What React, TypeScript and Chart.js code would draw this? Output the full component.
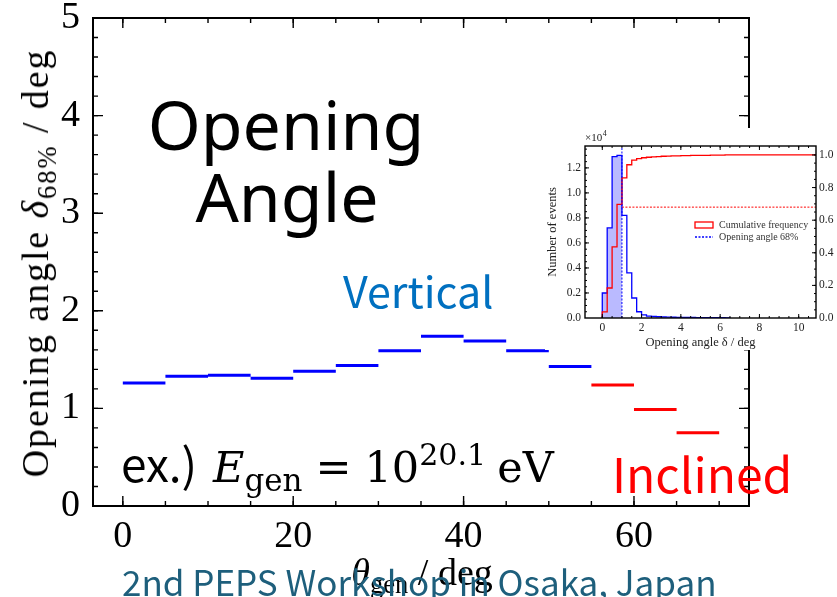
import React, { useEffect, useRef } from "react";
import { Chart, registerables } from "chart.js";

Chart.register(...registerables);

// ---------------- main chart data ----------------
const zenithBinStart = [0, 5, 10, 15, 20, 25, 30, 35, 40, 45, 50, 55, 60, 65];
const zenithBinWidth = 5;
const openingAngle68 = [1.26, 1.33, 1.34, 1.31, 1.38, 1.44, 1.59, 1.74, 1.69, 1.59, 1.43, 1.24, 0.99, 0.75];
const inclinedFromIndex = 11; // bins from 55 deg are "Inclined"
const mainXTicks = [0, 20, 40, 60];
const mainYTicks = [0, 1, 2, 3, 4, 5];

// ---------------- inset data ----------------
const insetBinEdges = [0, 0.25, 0.5, 0.75, 1, 1.25, 1.5, 1.75, 2, 2.25, 2.5, 2.75, 3, 3.25, 3.5, 3.75, 4, 4.25, 4.5, 4.75, 5, 5.25, 5.5, 5.75, 6, 6.25, 6.5];
const insetCounts = [0.2, 0.72, 1.29, 1.3, 0.82, 0.36, 0.16, 0.05, 0.025, 0.015, 0.012, 0.01, 0.008, 0.007, 0.006, 0.005, 0.005, 0.004, 0.004, 0.003, 0.003, 0.003, 0.002, 0.002, 0.002, 0.001];
const insetCumulative = [0.038, 0.184, 0.436, 0.697, 0.86, 0.94, 0.968, 0.978, 0.983, 0.986, 0.988, 0.99, 0.992, 0.993, 0.994, 0.995, 0.996, 0.996, 0.997, 0.997, 0.998, 0.998, 0.999, 0.999, 0.999, 1.0];
const insetXTicks = [0, 2, 4, 6, 8, 10];
const insetYTicks = [0, 0.2, 0.4, 0.6, 0.8, 1.0, 1.2];
const insetY2Ticks = [0, 0.2, 0.4, 0.6, 0.8, 1.0];
const openingAngleCut = 1.0;
const cumulativeLevel = 0.68;

const X_MIN = -3.5, X_MAX = 73.5, Y_MIN = 0, Y_MAX = 5;
const IX_MIN = -0.88, IX_MAX = 10.88, IY_MAX = 1.375, IY2_MAX = 1.055;

const SERIF = '"Liberation Serif", "DejaVu Serif", serif';
const MATH = '"DejaVu Serif", "Liberation Serif", serif';
const SANS_JP = '"Noto Sans CJK JP", "Noto Sans", sans-serif';

function range(from: number, to: number, step: number) {
  const out: number[] = [];
  for (let v = from; v <= to + 1e-9; v += step) out.push(Math.round(v * 1000) / 1000);
  return out;
}

function segments(from: number, to: number) {
  const pts: any[] = [];
  for (let i = from; i < to; i++) {
    const s = zenithBinStart[i];
    pts.push({ x: s, y: openingAngle68[i] });
    pts.push({ x: s + zenithBinWidth, y: openingAngle68[i] });
    pts.push({ x: s + zenithBinWidth, y: null });
  }
  return pts;
}

const noPad = (s: any) => {
  s.paddingTop = 0;
  s.paddingBottom = 0;
  s.paddingLeft = 0;
  s.paddingRight = 0;
};

const axisFrame = {
  id: "axisFrame",
  afterDatasetsDraw(chart: any, _args: any, opts: any) {
    const { ctx, chartArea: a } = chart;
    ctx.save();
    ctx.strokeStyle = "#000";
    ctx.lineCap = "butt";
    ctx.lineWidth = opts.tickWidth;
    for (const spec of opts.axes) {
      const s = chart.scales[spec.id];
      const horiz = s.isHorizontal();
      const draw = (v: number, len: number) => {
        const p = s.getPixelForValue(v);
        ctx.beginPath();
        if (horiz) {
          if (p < a.left + 1 || p > a.right - 1) return;
          if (spec.sides.includes("bottom")) { ctx.moveTo(p, a.bottom); ctx.lineTo(p, a.bottom - len); }
          if (spec.sides.includes("top")) { ctx.moveTo(p, a.top); ctx.lineTo(p, a.top + len); }
        } else {
          if (p < a.top + 1 || p > a.bottom - 1) return;
          if (spec.sides.includes("left")) { ctx.moveTo(a.left, p); ctx.lineTo(a.left + len, p); }
          if (spec.sides.includes("right")) { ctx.moveTo(a.right, p); ctx.lineTo(a.right - len, p); }
        }
        ctx.stroke();
      };
      spec.minor.forEach((v: number) => draw(v, opts.minorLen));
      spec.major.forEach((v: number) => draw(v, opts.majorLen));
    }
    ctx.lineWidth = opts.frameWidth;
    ctx.strokeRect(a.left, a.top, a.right - a.left, a.bottom - a.top);
    ctx.restore();
  },
};

const insetDecor = {
  id: "insetDecor",
  afterDraw(chart: any) {
    const { ctx, chartArea: a } = chart;
    ctx.save();
    ctx.fillStyle = "#222";
    ctx.textBaseline = "alphabetic";
    ctx.textAlign = "left";
    ctx.font = `11px ${SERIF}`;
    ctx.fillText("×10", a.left, a.top - 5);
    const w = ctx.measureText("×10").width;
    ctx.font = `8px ${SERIF}`;
    ctx.fillText("4", a.left + w + 0.5, a.top - 10);
    // legend
    const lx = a.left + 110, ly1 = a.top + 79, ly2 = a.top + 91;
    ctx.strokeStyle = "#ff0000";
    ctx.lineWidth = 1.3;
    ctx.strokeRect(lx, ly1 - 3, 18, 6);
    ctx.strokeStyle = "#0000ff";
    ctx.setLineDash([2, 1.5]);
    ctx.beginPath();
    ctx.moveTo(lx, ly2);
    ctx.lineTo(lx + 18, ly2);
    ctx.stroke();
    ctx.setLineDash([]);
    ctx.fillStyle = "#333";
    ctx.font = `10px ${SERIF}`;
    ctx.textBaseline = "middle";
    ctx.fillText("Cumulative frequency", lx + 24, ly1);
    ctx.fillText("Opening angle 68%", lx + 24, ly2);
    ctx.restore();
  },
};

export default function App() {
  const mainRef = useRef<HTMLCanvasElement>(null);
  const insetRef = useRef<HTMLCanvasElement>(null);

  useEffect(() => {
    const tickFont = { family: SERIF, size: 38 };
    const main = new Chart(mainRef.current!, {
      type: "line",
      data: {
        datasets: [
          {
            label: "Vertical",
            data: segments(0, inclinedFromIndex),
            borderColor: "#0000ff",
            borderWidth: 3,
            pointRadius: 0,
            spanGaps: false,
            borderCapStyle: "butt",
          },
          {
            label: "Inclined",
            data: segments(inclinedFromIndex, openingAngle68.length),
            borderColor: "#ff0000",
            borderWidth: 3,
            pointRadius: 0,
            spanGaps: false,
            borderCapStyle: "butt",
          },
        ],
      },
      options: {
        responsive: false,
        animation: false,
        events: [],
        layout: { padding: { top: 18, right: 88, left: 0, bottom: 0 } },
        plugins: {
          legend: { display: false },
          tooltip: { enabled: false },
          axisFrame: {
            tickWidth: 1.4,
            frameWidth: 2,
            majorLen: 10,
            minorLen: 5,
            axes: [
              { id: "x", sides: ["bottom", "top"], major: mainXTicks, minor: range(0, 70, 5) },
              { id: "y", sides: ["left", "right"], major: mainYTicks, minor: range(0, 5, 0.2) },
            ],
          },
        } as any,
        scales: {
          x: {
            type: "linear",
            min: X_MIN,
            max: X_MAX,
            afterBuildTicks: (s: any) => { s.ticks = mainXTicks.map((v) => ({ value: v })); },
            afterFit: (s: any) => { s.height = 91; noPad(s); },
            grid: { display: false, drawTicks: false },
            border: { display: false },
            ticks: { font: tickFont, color: "#000", padding: 8, maxRotation: 0, autoSkip: false, callback: (v: any) => String(v) },
          },
          y: {
            type: "linear",
            min: Y_MIN,
            max: Y_MAX,
            afterBuildTicks: (s: any) => { s.ticks = mainYTicks.map((v) => ({ value: v })); },
            afterFit: (s: any) => { s.width = 93; noPad(s); },
            grid: { display: false, drawTicks: false },
            border: { display: false },
            ticks: { font: tickFont, color: "#000", padding: 13, autoSkip: false, callback: (v: any) => String(v) },
          },
        },
      },
      plugins: [axisFrame],
    } as any);

    // ----- inset -----
    const histData: any[] = [{ x: insetBinEdges[0], y: 0 }];
    insetCounts.forEach((c, i) => histData.push({ x: insetBinEdges[i], y: c }));
    histData.push({ x: insetBinEdges[insetCounts.length], y: 0 });

    const fillData: any[] = [{ x: insetBinEdges[0], y: 0 }];
    let lastFill = 0;
    insetCounts.forEach((c, i) => {
      if (insetBinEdges[i] < openingAngleCut - 1e-9) { fillData.push({ x: insetBinEdges[i], y: c }); lastFill = c; }
    });
    fillData.push({ x: openingAngleCut, y: lastFill });
    fillData.push({ x: openingAngleCut, y: 0 });

    const cumData: any[] = [{ x: insetBinEdges[0], y: 0 }];
    insetCumulative.forEach((c, i) => cumData.push({ x: insetBinEdges[i], y: c }));
    cumData.push({ x: IX_MAX, y: insetCumulative[insetCumulative.length - 1] });

    const smallTick = { family: SERIF, size: 11.5 };
    const inset = new Chart(insetRef.current!, {
      type: "line",
      data: {
        datasets: [
          { data: fillData, yAxisID: "y", stepped: "before", borderWidth: 0, pointRadius: 0, fill: "origin", backgroundColor: "rgba(0,0,255,0.27)", order: 5 },
          { data: histData, yAxisID: "y", stepped: "before", borderColor: "#0000ff", borderWidth: 1.3, pointRadius: 0, fill: false, order: 3 },
          { data: cumData, yAxisID: "y2", stepped: "before", borderColor: "#ff0000", borderWidth: 1.3, pointRadius: 0, fill: false, order: 2 },
          { data: [{ x: openingAngleCut, y: cumulativeLevel }, { x: IX_MAX, y: cumulativeLevel }], yAxisID: "y2", borderColor: "#ff0000", borderWidth: 1, borderDash: [2, 1.5], pointRadius: 0, fill: false, order: 1 },
          { data: [{ x: openingAngleCut, y: 0 }, { x: openingAngleCut, y: IY_MAX }], yAxisID: "y", borderColor: "#0000ff", borderWidth: 1, borderDash: [2, 1.5], pointRadius: 0, fill: false, order: 0 },
        ],
      },
      options: {
        responsive: false,
        animation: false,
        events: [],
        layout: { padding: { top: 18, right: 0, left: 0, bottom: 0 } },
        plugins: {
          legend: { display: false },
          tooltip: { enabled: false },
          axisFrame: {
            tickWidth: 1,
            frameWidth: 1.4,
            majorLen: 4,
            minorLen: 2,
            axes: [
              { id: "x", sides: ["bottom", "top"], major: insetXTicks, minor: range(0, 10.5, 0.5) },
              { id: "y", sides: ["left"], major: insetYTicks, minor: range(0, 1.35, 0.05) },
              { id: "y2", sides: ["right"], major: insetY2Ticks, minor: range(0, 1.05, 0.05) },
            ],
          },
        } as any,
        scales: {
          x: {
            type: "linear",
            min: IX_MIN,
            max: IX_MAX,
            afterBuildTicks: (s: any) => { s.ticks = insetXTicks.map((v) => ({ value: v })); },
            afterFit: (s: any) => { s.height = 32; noPad(s); },
            grid: { display: false, drawTicks: false },
            border: { display: false },
            ticks: { font: smallTick, color: "#222", padding: 3, maxRotation: 0, autoSkip: false, callback: (v: any) => String(v) },
            title: { display: true, text: "Opening angle δ / deg", font: { family: SERIF, size: 12.5 }, color: "#222", padding: 0 },
          },
          y: {
            type: "linear",
            position: "left",
            min: 0,
            max: IY_MAX,
            afterBuildTicks: (s: any) => { s.ticks = insetYTicks.map((v) => ({ value: v })); },
            afterFit: (s: any) => { s.width = 40; noPad(s); },
            grid: { display: false, drawTicks: false },
            border: { display: false },
            ticks: { font: smallTick, color: "#222", padding: 4, autoSkip: false, callback: (v: any) => Number(v).toFixed(1) },
            title: { display: true, text: "Number of events", font: { family: SERIF, size: 12.5 }, color: "#222", padding: 0 },
          },
          y2: {
            type: "linear",
            position: "right",
            min: 0,
            max: IY2_MAX,
            afterBuildTicks: (s: any) => { s.ticks = insetY2Ticks.map((v) => ({ value: v })); },
            afterFit: (s: any) => { s.width = 21; noPad(s); },
            grid: { display: false, drawTicks: false },
            border: { display: false },
            ticks: { font: smallTick, color: "#222", padding: 3, autoSkip: false, callback: (v: any) => Number(v).toFixed(1) },
          },
        },
      },
      plugins: [axisFrame, insetDecor],
    } as any);

    return () => {
      main.destroy();
      inset.destroy();
    };
  }, []);

  const abs: React.CSSProperties = { position: "absolute", whiteSpace: "nowrap", lineHeight: 1, margin: 0 };

  return (
    <div style={{ position: "absolute", left: 0, top: 0, width: 837, height: 597, overflow: "hidden", background: "#fff" }}>
      <canvas ref={mainRef} width={837} height={597} style={{ position: "absolute", left: 0, top: 0 }} />

      {/* y axis title */}
      <div style={{ ...abs, left: 35, top: 263, transform: "translate(-50%, -50%) rotate(-90deg)", fontFamily: SERIF, fontSize: 38, letterSpacing: "1.9px", color: "#000" }}>
        Opening angle <span style={{ fontStyle: "italic" }}>δ</span>
        <span style={{ fontSize: "0.7em", position: "relative", top: "0.3em" }}>68%</span> / deg
      </div>

      {/* x axis title */}
      <div style={{ ...abs, left: 422, top: 553, transform: "translateX(-50%)", fontFamily: SERIF, fontSize: 38, color: "#000" }}>
        <span style={{ fontStyle: "italic" }}>θ</span>
        <span style={{ fontSize: "0.7em", position: "relative", top: "0.3em" }}>gen</span> / deg
      </div>

      <canvas ref={insetRef} width={292} height={222} style={{ position: "absolute", left: 545, top: 128, background: "#fff" }} />

      {/* slide texts */}
      <div style={{ ...abs, left: 286, top: 90, transform: "translateX(-50%)", fontFamily: '"Noto Sans", sans-serif', fontSize: 68, color: "#000" }}>Opening</div>
      <div style={{ ...abs, left: 287, top: 162, transform: "translateX(-50%)", fontFamily: '"Noto Sans", sans-serif', fontSize: 68, color: "#000" }}>Angle</div>

      <div style={{ ...abs, left: 343, top: 268, fontFamily: SANS_JP, fontSize: 43, color: "#0070C0" }}>Vertical</div>
      <div style={{ ...abs, left: 612, top: 448, fontFamily: SANS_JP, fontSize: 48, color: "#ff0000" }}>Inclined</div>

      <div style={{ ...abs, left: 121, top: 439, fontFamily: MATH, fontSize: 43, color: "#000" }}>
        <span style={{ fontFamily: SANS_JP, fontSize: 46 }}>ex.)</span>
        <span style={{ fontStyle: "italic", marginLeft: 16 }}>E</span>
        <span style={{ fontSize: "0.72em", position: "relative", top: "0.3em" }}>gen</span>
        <span style={{ margin: "0 13px" }}>=</span>10
        <span style={{ fontSize: "0.7em", position: "relative", top: "-0.55em" }}>20.1</span>
        <span style={{ marginLeft: 11 }}>eV</span>
      </div>

      <div style={{ ...abs, left: 122, top: 563, fontFamily: SANS_JP, fontSize: 35, color: "#1E5F7C" }}>
        2nd PEPS Workshop in Osaka, Japan
      </div>
    </div>
  );
}
